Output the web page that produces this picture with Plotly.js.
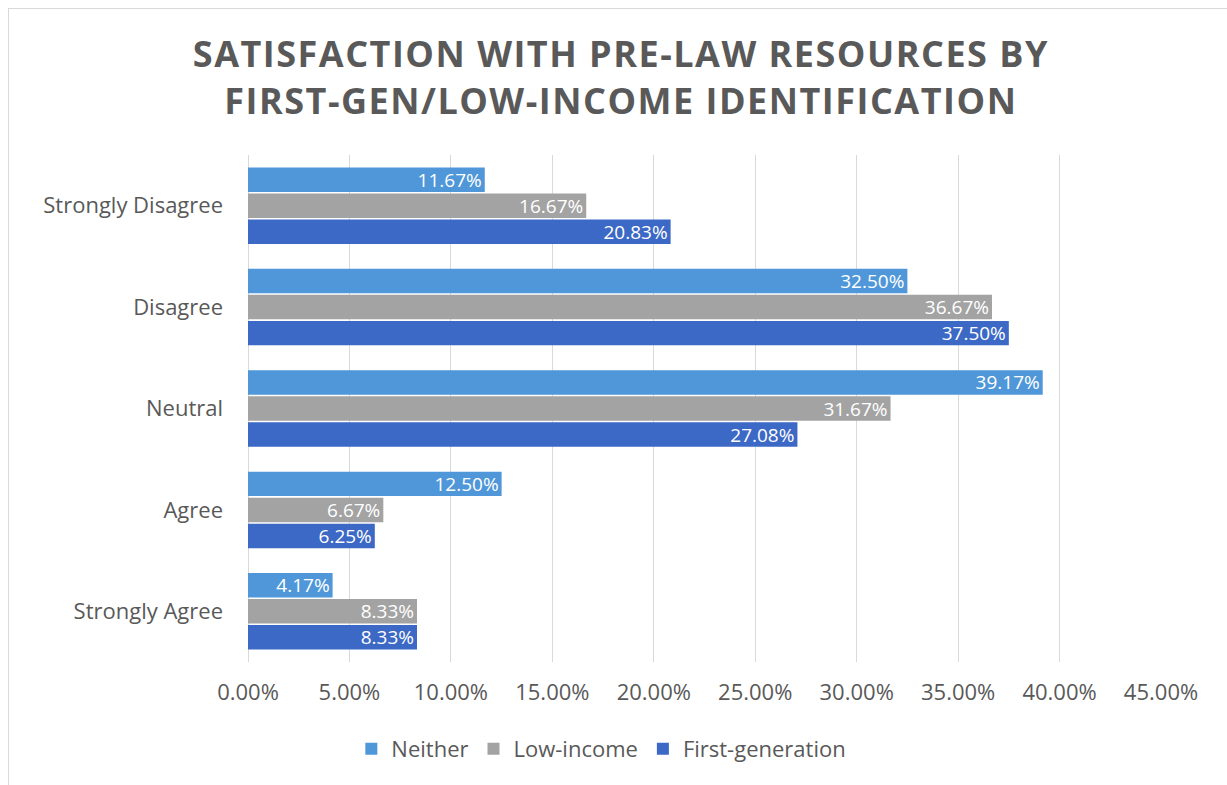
<!DOCTYPE html>
<html><head><meta charset="utf-8">
<script src="https://cdn.plot.ly/plotly-3.0.1.min.js"></script>
<style>
html,body{margin:0;padding:0;background:#fff;overflow:hidden;}
#frame{position:absolute;left:8px;top:8px;width:1240px;height:800px;border:1px solid #d9d9d9;}
#chart{position:absolute;left:0;top:0;width:1227px;height:785px;}
#chart .gtitle{letter-spacing:1.5px;}
</style></head>
<body>
<div id="frame"></div>
<div id="chart"></div>
<script>
const categories = ['Strongly Disagree','Disagree','Neutral','Agree','Strongly Agree'];
const neither = [0.1167, 0.3250, 0.3917, 0.1250, 0.0417];
const lowIncome = [0.1667, 0.3667, 0.3167, 0.0667, 0.0833];
const firstGen = [0.2083, 0.3750, 0.2708, 0.0625, 0.0833];
const seriesNames = ['Neither','Low-income','First-generation'];
const xTicks = [0,0.05,0.10,0.15,0.20,0.25,0.30,0.35,0.40,0.45];

const font = "'Open Sans', sans-serif";
function mk(name, vals, color){
  return {type:'bar', orientation:'h', name:name, y:categories, x:vals,
    marker:{color:color}, text:vals.map(v=>(v*100).toFixed(2)+'%'),
    textposition:'inside', insidetextanchor:'end', textangle:0, constraintext:'none',
    textfont:{color:'#ffffff', size:19, family:font}, hoverinfo:'x+name', cliponaxis:false};
}
const data = [mk(seriesNames[0], neither, '#4f97d9'), mk(seriesNames[1], lowIncome, '#a3a3a3'), mk(seriesNames[2], firstGen, '#3c68c6')];
const layout = {
  width:1227, height:785, paper_bgcolor:'rgba(0,0,0,0)', plot_bgcolor:'rgba(0,0,0,0)',
  margin:{l:248, r:66, t:155, b:123},
  title:{text:'<b>SATISFACTION WITH PRE-LAW RESOURCES BY<br>FIRST-GEN/LOW-INCOME IDENTIFICATION</b>', x:0.506, xref:'container', xanchor:'center', y:0.915, yref:'container', yanchor:'middle', font:{family:font, size:36, color:'#595959'}},
  barmode:'group', bargap:0.23, bargroupgap:0.06,
  xaxis:{range:[0,0.45], tickvals:xTicks, tickformat:'.2%', showgrid:true, gridcolor:'#d9d9d9', gridwidth:1,
    zeroline:true, zerolinecolor:'#d9d9d9', zerolinewidth:1, ticks:'', ticklabelstandoff:15,
    tickfont:{family:font, size:22, color:'#595959'}, fixedrange:true},
  yaxis:{autorange:'reversed', type:'category', showgrid:false, ticks:'', ticklabelstandoff:24,
    tickfont:{family:font, size:22, color:'#595959'}, fixedrange:true},
  legend:{orientation:'h', x:0.387, xanchor:'center', y:-0.13, yanchor:'top', font:{family:font, size:22, color:'#595959'}, itemwidth:14},
  showlegend:true
};
Plotly.newPlot('chart', data, layout, {displayModeBar:false, staticPlot:true});
</script>
</body></html>
